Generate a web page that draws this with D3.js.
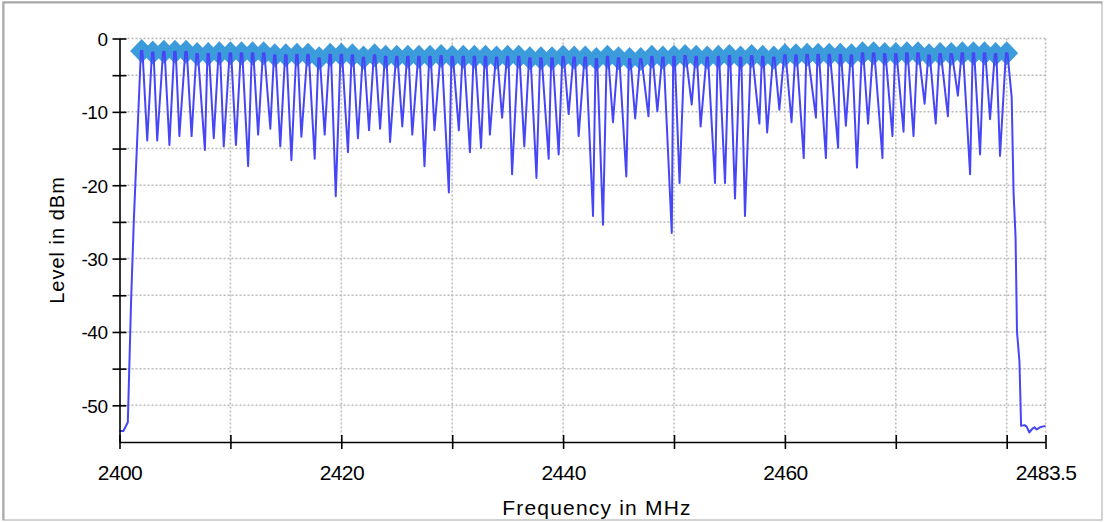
<!DOCTYPE html>
<html>
<head>
<meta charset="utf-8">
<script src="https://cdn.jsdelivr.net/npm/d3@7"></script>
<style>
html, body { margin: 0; padding: 0; background: #fff; }
svg { display: block; font-family: "Liberation Sans", Arial, sans-serif; }
</style>
</head>
<body>
<div id="chart"></div>
<script>
// bluetooth hop channels, 1 MHz apart
const channels = d3.range(2402, 2481);

// level at each channel peak (also where the diamond markers sit)
const peakLevel = [
  -1.7, -1.9, -1.8, -1.8, -1.8, -2.1, -2.1, -2.0, -2.0, -2.0,
  -2.0, -2.0, -2.3, -2.3, -2.2, -2.2, -2.7, -2.2, -2.2,
  -2.3, -2.6, -2.3, -2.5, -2.5, -2.5, -2.5, -2.5, -2.4, -2.5,
  -2.5, -2.5, -2.5, -2.6, -2.5, -2.5, -2.7, -2.7, -2.7, -2.5,
  -2.6, -2.6, -2.8, -2.5, -2.7, -2.8, -2.8, -2.5, -2.6, -2.5,
  -2.4, -2.5, -2.6, -2.5, -2.4, -2.6, -2.4, -2.5, -2.6, -2.3,
  -2.3, -2.2, -2.2, -2.2, -2.2, -2.3, -2.0, -2.0, -2.1, -2.1,
  -2.0, -2.0, -2.3, -2.1, -2.1, -2.0, -2.0, -2.0, -2.1, -2.0
];

// notch between channel n and n+1: position after n (MHz) and level
const dipOffset = [
  0.5, 0.4, 0.5, 0.4, 0.5, 0.7, 0.5, 0.4, 0.5, 0.6,
  0.5, 0.6, 0.5, 0.5, 0.4, 0.6, 0.5, 0.5,
  0.6, 0.5, 0.5, 0.5, 0.4, 0.5, 0.4, 0.5, 0.4, 0.7,
  0.6, 0.6, 0.6, 0.4, 0.5, 0.4, 0.5, 0.6, 0.7, 0.6,
  0.5, 0.4, 0.7, 0.6, 0.5, 0.7, 0.5, 0.7, 0.5, 0.8,
  0.5, 0.6, 0.4, 0.7, 0.6, 0.5, 0.4, 0.7, 0.4, 0.5,
  0.6, 0.7, 0.8, 0.7, 0.8, 0.5, 0.5, 0.5, 0.8, 0.7,
  0.7, 0.6, 0.6, 0.6, 0.7, 0.6, 0.7, 0.6, 0.5, 0.4
];
const dipLevel = [
  -13.9, -13.9, -14.5, -13.3, -13.3, -15.2, -13.6, -14.7, -14.5, -17.4,
  -13.1, -12.3, -14.7, -16.6, -13.4, -16.4, -13.1, -21.5,
  -15.5, -13.6, -12.5, -12.3, -14.1, -12.0, -13.1, -17.4, -12.5, -21.0,
  -12.5, -15.5, -14.9, -13.1, -10.8, -18.5, -14.7, -19.0, -16.4, -15.8,
  -10.3, -13.3, -24.2, -25.4, -11.4, -18.8, -10.9, -10.6, -9.9, -26.5,
  -19.7, -9.0, -12.0, -19.7, -19.7, -21.8, -24.2, -11.6, -12.8, -9.7,
  -11.4, -16.3, -10.8, -16.3, -14.9, -11.9, -17.6, -11.6, -16.3, -13.3,
  -12.7, -13.3, -8.9, -11.6, -10.6, -7.8, -18.5, -15.8, -11.0, -16.0
];

// band edges of the trace [MHz, dBm]
const lowEdge = [
  [2400, -53.5], [2400.35, -53.5], [2400.75, -52.3], [2401.05, -35.5], [2401.3, -24.5]
];
const highEdge = [
  [2480.45, -8], [2480.62, -21], [2480.8, -27], [2480.93, -40], [2481.15, -44],
  [2481.3, -52.8], [2481.6, -52.7], [2481.8, -52.9], [2482.05, -53.7], [2482.3, -53.2],
  [2482.5, -53.0], [2482.7, -53.3], [2483.0, -53.0], [2483.5, -52.8]
];

const yTickValues = [0, -5, -10, -15, -20, -25, -30, -35, -40, -45, -50];
const yLabels = [0, -10, -20, -30, -40, -50];
const xTickValues = [2400, 2410, 2420, 2430, 2440, 2450, 2460, 2470, 2480, 2483.5];
const xLabels = [2400, 2420, 2440, 2460, 2483.5];

const W = 1104, H = 522;
const svg = d3.select("#chart").append("svg")
  .attr("width", W)
  .attr("height", H);

// frame
svg.append("rect")
  .attr("x", 3).attr("y", 2)
  .attr("width", 1099).attr("height", 518)
  .attr("fill", "none")
  .attr("stroke", "#c4c4c4")
  .attr("stroke-width", 1.5);
svg.append("path")
  .attr("d", "M3.5,520 V2.5 H1102")
  .attr("fill", "none")
  .attr("stroke", "#a8a8a8")
  .attr("stroke-width", 2);

let x = d3.scaleLinear().domain([2400, 2483.5]).range([119.5, 1045.5]);
let y = d3.scaleLinear().domain([-55, 0]).range([442, 38.5]);

// grid
let grid = svg.append("g")
  .attr("stroke", "#b9b9b9")
  .attr("stroke-width", 1.5)
  .attr("stroke-dasharray", "2,2");
grid.selectAll("line.h")
  .data(yTickValues)
  .enter().append("line")
    .attr("x1", x(2400)).attr("x2", x(2483.5))
    .attr("y1", d => y(d)).attr("y2", d => y(d));
grid.selectAll("line.v")
  .data(xTickValues.slice(1))
  .enter().append("line")
    .attr("x1", d => x(d)).attr("x2", d => x(d))
    .attr("y1", y(0)).attr("y2", y(-55));

// trace points
let trace = lowEdge.map(p => ({f: p[0], v: p[1]}));
channels.forEach((ch, i) => {
  trace.push({f: ch - 0.07, v: peakLevel[i]});
  trace.push({f: ch + 0.07, v: peakLevel[i]});
  if (i < dipLevel.length) trace.push({f: ch + dipOffset[i], v: dipLevel[i]});
});
highEdge.forEach(p => trace.push({f: p[0], v: p[1]}));

// markers
svg.append("g").selectAll("path")
  .data(channels)
  .enter().append("path")
    .attr("transform", (d, i) => "translate(" + x(d) + "," + y(peakLevel[i]) + ")")
    .attr("d", "M0,-12L11.5,0L0,12L-11.5,0Z")
    .attr("fill", "#3c9bdb");

let line = d3.line()
  .x(d => x(d.f))
  .y(d => y(d.v));

svg.append("path")
  .attr("d", line(trace))
  .attr("fill", "none")
  .attr("stroke", "#4646f7")
  .attr("stroke-width", 2)
  .attr("stroke-linejoin", "round");

// axes
let yAxis = svg.append("g")
  .attr("transform", "translate(" + x(2400) + ",0)")
  .call(d3.axisLeft(y).tickValues(yTickValues).tickSize(7).tickSizeOuter(0)
    .tickFormat(d => yLabels.includes(d) ? d : ""));
yAxis.selectAll(".tick line").attr("x1", 7);
yAxis.selectAll("line, path").attr("stroke", "#000").attr("stroke-width", 1.6);
yAxis.selectAll("text")
  .attr("x", -12)
  .attr("dy", "0.36em")
  .style("font-size", "19px")
  .style("font-family", "Liberation Sans, Arial, sans-serif")
  .style("letter-spacing", "-0.5px")
  .attr("fill", "#000");

let xAxis = svg.append("g")
  .attr("transform", "translate(0," + y(-55) + ")")
  .call(d3.axisBottom(x).tickValues(xTickValues).tickSize(7).tickSizeOuter(0)
    .tickFormat(d => xLabels.includes(d) ? d : ""));
xAxis.selectAll(".tick line").attr("y1", -7);
xAxis.selectAll("line, path").attr("stroke", "#000").attr("stroke-width", 1.6);
xAxis.selectAll("text")
  .attr("y", 38)
  .attr("dy", 0)
  .style("font-size", "21px")
  .style("font-family", "Liberation Sans, Arial, sans-serif")
  .style("letter-spacing", "-0.6px")
  .attr("fill", "#000");

svg.append("text")
  .attr("transform", "translate(64,240) rotate(-90)")
  .style("text-anchor", "middle")
  .style("font-size", "20px")
  .style("letter-spacing", "1px")
  .text("Level in dBm");

svg.append("text")
  .attr("x", 597)
  .attr("y", 515)
  .style("text-anchor", "middle")
  .style("font-size", "21px")
  .style("letter-spacing", "1.2px")
  .text("Frequency in MHz");
</script>
</body>
</html>
